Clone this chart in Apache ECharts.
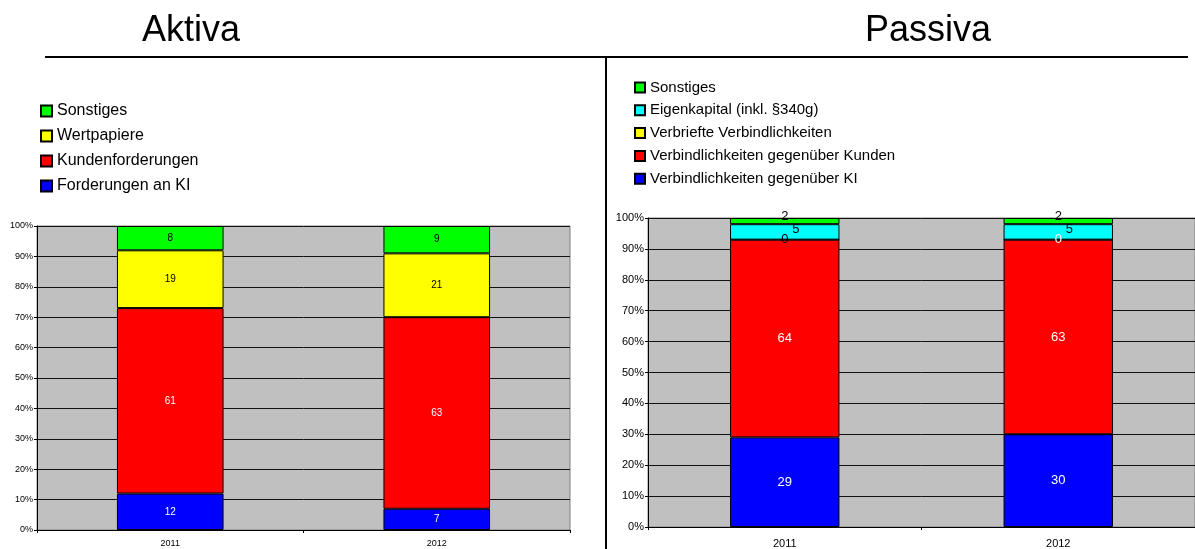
<!DOCTYPE html>
<html>
<head>
<meta charset="utf-8">
<script src="https://cdn.jsdelivr.net/npm/echarts@6/dist/echarts.min.js"></script>
<style>
  html, body { margin: 0; padding: 0; background: #fff; }
  #chart { width: 1195px; height: 549px; }
</style>
</head>
<body>
<div id="chart"></div>
<script>
// Balance sheet structure in percent, assets (Aktiva) and liabilities (Passiva)
const years = ['2011', '2012'];

const aktivaForderungenKI = [12, 7];
const aktivaKundenforderungen = [61, 63];
const aktivaWertpapiere = [19, 21];
const aktivaSonstiges = [8, 9];

const passivaVerbKI = [29, 30];
const passivaVerbKunden = [64, 63];
const passivaVerbrieft = [0, 0];
const passivaEigenkapital = [5, 5];
const passivaSonstiges = [2, 2];

const FONT = '"Liberation Sans", Arial, sans-serif';
const C = { green: '#00FF00', yellow: '#FFFF00', red: '#FF0000', blue: '#0000FF', cyan: '#00FFFF' };

function bar(name, data, color, stack, axis, labelColor, fontSize, extra) {
  return Object.assign({
    type: 'bar',
    name: name,
    stack: stack,
    xAxisIndex: axis,
    yAxisIndex: axis,
    barWidth: '40%',
    data: data,
    itemStyle: { color: color, borderColor: '#000', borderWidth: 1 },
    label: {
      show: true,
      position: 'inside',
      color: labelColor,
      fontFamily: FONT,
      fontSize: fontSize
    },
    emphasis: { disabled: true }
  }, extra || {});
}

function yAx(grid, fontSize) {
  return {
    type: 'value',
    gridIndex: grid,
    min: 0, max: 100, interval: 10,
    axisLine: { show: true, lineStyle: { color: '#000', width: 1 } },
    axisTick: { show: true, length: 3, lineStyle: { color: '#000' } },
    axisLabel: { formatter: '{value}%', color: '#000', fontFamily: FONT, fontSize: fontSize, margin: 4 },
    splitLine: { show: true, lineStyle: { color: '#111', width: 1 } }
  };
}

function xAx(grid, fontSize, margin) {
  return {
    type: 'category',
    gridIndex: grid,
    data: years,
    axisLine: { show: true, lineStyle: { color: '#000', width: 1 } },
    axisTick: { show: true, length: 3, lineStyle: { color: '#000' } },
    axisLabel: { color: '#000', fontFamily: FONT, fontSize: fontSize, margin: margin },
    splitLine: { show: false }
  };
}

const chart = echarts.init(document.getElementById('chart'), null, { renderer: 'canvas' });

chart.setOption({
  animation: false,
  backgroundColor: '#fff',
  graphic: [
    { type: 'text', left: 191 - 49, top: 13, style: { text: 'Aktiva', font: '36px ' + FONT, fill: '#000' } },
    { type: 'text', left: 929 - 64, top: 13, style: { text: 'Passiva', font: '36px ' + FONT, fill: '#000' } },
    { type: 'line', shape: { x1: 45, y1: 57, x2: 1188, y2: 57 }, style: { stroke: '#000', lineWidth: 2 } },
    { type: 'line', shape: { x1: 606, y1: 57, x2: 606, y2: 549 }, style: { stroke: '#000', lineWidth: 2 } }
  ],
  legend: [
    {
      orient: 'vertical', left: 35, top: 98, itemGap: 9,
      itemWidth: 11, itemHeight: 11, icon: 'rect', selectedMode: false,
      textStyle: { fontFamily: FONT, fontSize: 16, color: '#000' },
      data: ['Sonstiges', 'Wertpapiere', 'Kundenforderungen', 'Forderungen an KI']
    },
    {
      orient: 'vertical', left: 629, top: 75, itemGap: 7.8,
      itemWidth: 10, itemHeight: 10, icon: 'rect', selectedMode: false,
      textStyle: { fontFamily: FONT, fontSize: 15, color: '#000' },
      data: ['Sonstiges', 'Eigenkapital (inkl. §340g)', 'Verbriefte Verbindlichkeiten',
             'Verbindlichkeiten gegenüber Kunden', 'Verbindlichkeiten gegenüber KI']
    }
  ],
  grid: [
    { left: 37, right: 1195 - 570, top: 226, bottom: 549 - 530, show: true,
      backgroundColor: '#C0C0C0', borderColor: '#808080', borderWidth: 1 },
    { left: 648, right: -2, top: 218, bottom: 549 - 527, show: true,
      backgroundColor: '#C0C0C0', borderColor: '#808080', borderWidth: 1 }
  ],
  xAxis: [xAx(0, 9, 9), xAx(1, 11, 11)],
  yAxis: [yAx(0, 9), yAx(1, 11)],
  series: [
    bar('Forderungen an KI', aktivaForderungenKI, C.blue, 'a', 0, '#fff', 10),
    bar('Kundenforderungen', aktivaKundenforderungen, C.red, 'a', 0, '#fff', 10),
    bar('Wertpapiere', aktivaWertpapiere, C.yellow, 'a', 0, '#000', 10),
    bar('Sonstiges', aktivaSonstiges, C.green, 'a', 0, '#000', 10),

    bar('Verbindlichkeiten gegenüber KI', passivaVerbKI, C.blue, 'p', 1, '#fff', 13),
    bar('Verbindlichkeiten gegenüber Kunden', passivaVerbKunden, C.red, 'p', 1, '#fff', 13),
    bar('Verbriefte Verbindlichkeiten', passivaVerbrieft.map((v, i) => ({
      value: v, label: { color: i === 0 ? '#000' : '#fff' }
    })), C.yellow, 'p', 1, '#000', 13),
    bar('Eigenkapital (inkl. §340g)', passivaEigenkapital, C.cyan, 'p', 1, '#000', 13,
      { label: { show: true, position: 'inside', color: '#000', fontFamily: FONT, fontSize: 13, offset: [11, -2] } }),
    bar('Sonstiges', passivaSonstiges, C.green, 'p', 1, '#000', 13,
      { label: { show: true, position: 'inside', color: '#000', fontFamily: FONT, fontSize: 13, offset: [0, -5] } })
  ]
});
</script>
</body>
</html>
